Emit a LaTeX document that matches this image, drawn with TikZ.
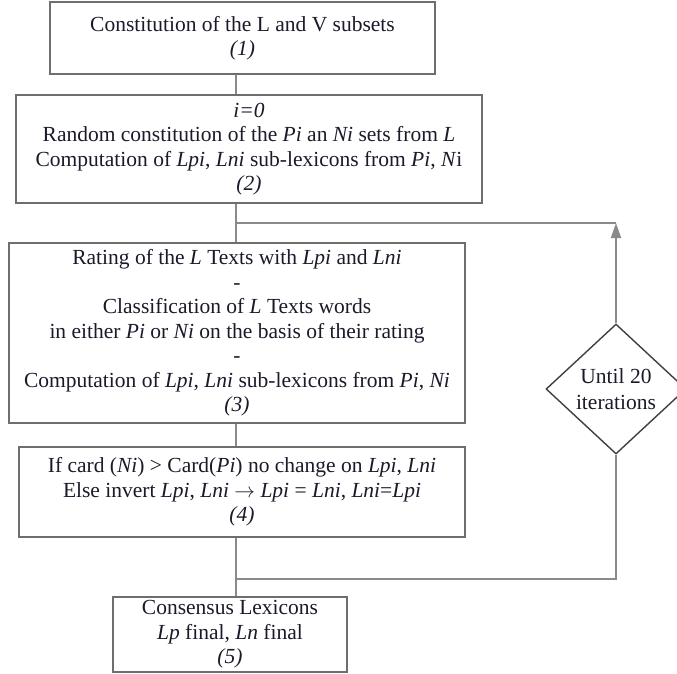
\documentclass[tikz,border=0pt]{standalone}
\usepackage{fontspec}
\setmainfont{Liberation Serif}
\usetikzlibrary{arrows.meta,shapes.geometric}
\definecolor{boxline}{HTML}{6E6E6E}
\definecolor{conline}{HTML}{8A8A8A}
\definecolor{txt}{HTML}{1A1A2A}
\tikzset{
  stepbox/.style={draw=boxline,line width=1.4pt,fill=white,rectangle,inner sep=0pt,
    align=center,text=txt,font=\fontsize{21.5}{24.5}\selectfont},
  decision/.style={draw=black!75,line width=1.4pt,fill=white,diamond,inner sep=0pt,
    minimum width=140pt,minimum height=130pt,align=center,text=txt,
    font=\fontsize{21.5}{26}\selectfont},
  conn/.style={draw=conline,line width=1.8pt},
  tipconn/.style={conn,-{Triangle[length=15pt,width=10pt]}}
}
\begin{document}
\begin{tikzpicture}[x=1pt,y=-1pt]
\useasboundingbox (0,0) rectangle (677,673);
\coordinate (spine) at (236,0);
\coordinate (fbtop) at (616,223);
\coordinate (fbbot) at (616,579);

\node[stepbox,minimum width=385pt,minimum height=72pt] (b1) at (242.5,38)
  {Constitution of the L and V subsets\\ \textit{(1)}};
\node[stepbox,minimum width=466pt,minimum height=108pt] (b2) at (249,149)
  {\textit{i=0}\\
   Random constitution of the \textit{Pi} an \textit{Ni} sets from \textit{L}\\
   Computation of \textit{Lpi}, \textit{Lni} sub-lexicons from \textit{Pi}, \textit{N}i\\
   \textit{(2)}};
\node[stepbox,minimum width=456pt,minimum height=180pt] (b3) at (237,333)
  {Rating of the \textit{L} Texts with \textit{Lpi} and \textit{Lni}\\
   -\\
   Classification of \textit{L} Texts words\\
   in either \textit{Pi} or \textit{Ni} on the basis of their rating\\
   -\\
   Computation of \textit{Lpi}, \textit{Lni} sub-lexicons from \textit{Pi}, \textit{Ni}\\
   \textit{(3)}};
\node[stepbox,minimum width=446pt,minimum height=90pt] (b4) at (242,492)
  {If card (\textit{Ni}) > Card(\textit{Pi}) no change on \textit{Lpi}, \textit{Lni}\\
   Else invert \textit{Lpi}, \textit{Lni} $\rightarrow$ \textit{Lpi} = \textit{Lni}, \textit{Lni}=\textit{Lpi}\\
   \textit{(4)}};
\node[stepbox,minimum width=234pt,minimum height=75pt] (b5) at (230,634.5)
  {Consensus Lexicons\\ \textit{Lp} final, \textit{Ln} final\\ \textit{(5)}};
\node[decision] (d) at (616,389) {Until 20\\ iterations};

\draw[conn] (b1.south -| spine) -- (b2.north -| spine);
\draw[conn] (b2.south -| spine) -- (b3.north -| spine);
\draw[conn] (b3.south -| spine) -- (b4.north -| spine);
\draw[conn] (b4.south -| spine) -- (b5.north -| spine);
\draw[tipconn] (d.north) -- (fbtop);
\draw[conn] (fbtop) -- (fbtop -| spine);
\draw[conn] (d.south) -- (fbbot) -- (fbbot -| spine);
\end{tikzpicture}
\end{document}
